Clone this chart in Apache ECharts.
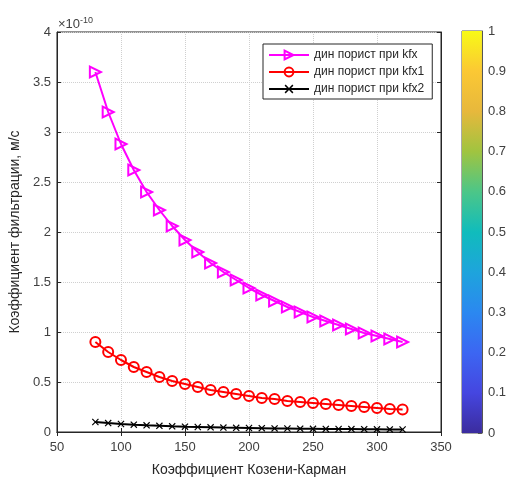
<!DOCTYPE html>
<html>
<head>
<meta charset="utf-8">
<script src="https://cdn.jsdelivr.net/npm/echarts@6/dist/echarts.min.js"></script>
<style>html,body{margin:0;padding:0;background:#fff}#c{width:509px;height:482px}</style>
</head>
<body>
<div id="c"></div>
<script>
// Data (values in units of 1e-10 m/s)
var xValues = [80, 90, 100, 110, 120, 130, 140, 150, 160, 170, 180, 190, 200, 210, 220, 230, 240, 250, 260, 270, 280, 290, 300, 310, 320];
var kfx  = [3.60, 3.20, 2.88, 2.62, 2.40, 2.22, 2.06, 1.92, 1.80, 1.69, 1.60, 1.52, 1.44, 1.37, 1.31, 1.25, 1.20, 1.15, 1.11, 1.07, 1.03, 0.99, 0.96, 0.93, 0.90];
var kfx1 = [0.90, 0.80, 0.72, 0.65, 0.60, 0.55, 0.51, 0.48, 0.45, 0.42, 0.40, 0.38, 0.36, 0.34, 0.33, 0.31, 0.30, 0.29, 0.28, 0.27, 0.26, 0.25, 0.24, 0.23, 0.225];
var kfx2 = [0.100, 0.089, 0.080, 0.073, 0.067, 0.062, 0.057, 0.053, 0.050, 0.047, 0.044, 0.042, 0.040, 0.038, 0.036, 0.035, 0.033, 0.032, 0.031, 0.030, 0.029, 0.028, 0.027, 0.026, 0.025];
var seriesNames = ['дин порист при kfx', 'дин порист при kfx1', 'дин порист при kfx2'];
var xTitle = 'Коэффициент Козени-Карман';
var yTitle = 'Коэффициент фильтрации, м/с';
var colorbarStops = [
  [0.0, '#3b2c9e'], [0.1, '#4546e0'], [0.2, '#3c66f2'], [0.3, '#2b88f0'],
  [0.4, '#1ea4dc'], [0.5, '#10bcbc'], [0.6, '#4cc688'], [0.7, '#a0c440'],
  [0.8, '#e7b83c'], [0.9, '#fbc834'], [1.0, '#f8fa16']
];

function pairs(ys){ return xValues.map(function(x,i){ return [x, ys[i]]; }); }

var FONT = 'Liberation Sans, Arial, sans-serif';
var AX = '#262626';
var LBL = '#404040';
var GRIDC = '#cfcfcf';
var chart = echarts.init(document.getElementById('c'), null, {renderer:'canvas'});
var xPath = 'path://M0,1.2 L1.2,0 L5,3.8 L8.8,0 L10,1.2 L6.2,5 L10,8.8 L8.8,10 L5,6.2 L1.2,10 L0,8.8 L3.8,5 Z';
var CLEAR = 'rgba(255,255,255,0)';

var option = {
  animation: false,
  backgroundColor: '#fff',
  textStyle: {fontFamily: FONT},
  title: {
    text: '{a|×10}{b|-10}', left: 53, top: 11,
    textStyle: {fontWeight: 'normal', rich: {a: {fontSize: 13, fontWeight: 'normal', color: LBL, fontFamily: FONT}, b: {fontSize: 9, fontWeight: 'normal', color: LBL, fontFamily: FONT, verticalAlign: 'top', padding:[0,0,8,0]}}}
  },
  legend: {
    orient: 'vertical', left: 263, top: 44,
    backgroundColor: '#fff', borderColor: AX, borderWidth: 1,
    padding: [5, 8, 4, 5], itemGap: 5, itemWidth: 40, itemHeight: 11,
    textStyle: {fontSize: 12, color: '#262626', fontFamily: FONT},
    data: seriesNames
  },
  grid: [
    {left: 53, top: 32, width: 388, height: 402, show: true, borderColor: AX, borderWidth: 1},
    {left: 462, top: 31, width: 22, height: 402, show: true, borderColor: '#555', borderWidth: 1}
  ],
  xAxis: [
    {gridIndex: 0, type: 'value', min: 50, max: 350, interval: 50,
     name: xTitle, nameLocation: 'middle', nameGap: 31,
     nameTextStyle: {fontSize: 14, color: AX, fontFamily: FONT},
     axisLine: {lineStyle: {color: AX}}, axisTick: {inside: true, length: 4, lineStyle: {color: AX}},
     axisLabel: {fontSize: 13, color: LBL, margin: 9, fontFamily: FONT},
     splitLine: {show: true, lineStyle: {type: 'dotted', color: GRIDC}}},
    {gridIndex: 0, type: 'value', min: 50, max: 350, interval: 50, position: 'top',
     axisLine: {lineStyle: {color: AX}}, axisTick: {inside: true, length: 4, lineStyle: {color: AX}},
     axisLabel: {show: false}, splitLine: {show: false}},
    {gridIndex: 1, type: 'category', data: ['c'], show: false}
  ],
  yAxis: [
    {gridIndex: 0, type: 'value', min: 0, max: 4, interval: 0.5,
     name: yTitle, nameLocation: 'middle', nameGap: 30,
     nameTextStyle: {fontSize: 14, color: AX, fontFamily: FONT},
     axisLine: {show: true, lineStyle: {color: AX}}, axisTick: {show: true, inside: true, length: 4, lineStyle: {color: AX}},
     axisLabel: {fontSize: 13, color: LBL, margin: 6, fontFamily: FONT},
     splitLine: {show: true, lineStyle: {type: 'dotted', color: GRIDC}}},
    {gridIndex: 0, type: 'value', min: 0, max: 4, interval: 0.5, position: 'right',
     axisLine: {show: true, lineStyle: {color: AX}}, axisTick: {show: true, inside: true, length: 4, lineStyle: {color: AX}},
     axisLabel: {show: false}, splitLine: {show: false}},
    {gridIndex: 1, type: 'value', min: 0, max: 1, interval: 0.1, position: 'right',
     axisLine: {show: true, lineStyle: {color: '#555'}}, axisTick: {show: true, inside: true, length: 4, lineStyle: {color: '#555'}},
     axisLabel: {fontSize: 13, color: LBL, margin: 6, fontFamily: FONT},
     splitLine: {show: false}}
  ],
  series: [
    {name: seriesNames[0], type: 'line', xAxisIndex: 0, yAxisIndex: 0, data: pairs(kfx),
     symbol: 'triangle', symbolSize: [11, 11], symbolRotate: -90, showAllSymbol: true,
     lineStyle: {color: '#ff00ff', width: 2},
     itemStyle: {color: CLEAR, borderColor: '#ff00ff', borderWidth: 2}},
    {name: seriesNames[1], type: 'line', xAxisIndex: 0, yAxisIndex: 0, data: pairs(kfx1),
     symbol: 'circle', symbolSize: 10, showAllSymbol: true,
     lineStyle: {color: '#ff0000', width: 2},
     itemStyle: {color: CLEAR, borderColor: '#ff0000', borderWidth: 2}},
    {name: seriesNames[2], type: 'line', xAxisIndex: 0, yAxisIndex: 0, data: pairs(kfx2),
     symbol: xPath, symbolSize: 7, showAllSymbol: true,
     lineStyle: {color: '#000', width: 2},
     itemStyle: {color: '#000', borderColor: '#000', borderWidth: 0}},
    {name: 'colorbar', type: 'bar', xAxisIndex: 2, yAxisIndex: 2, data: [1], barWidth: '100%', silent: true,
     itemStyle: {color: new echarts.graphic.LinearGradient(0, 1, 0, 0,
       colorbarStops.map(function(s){ return {offset: s[0], color: s[1]}; }))}}
  ]
};
chart.setOption(option);
</script>
</body>
</html>
